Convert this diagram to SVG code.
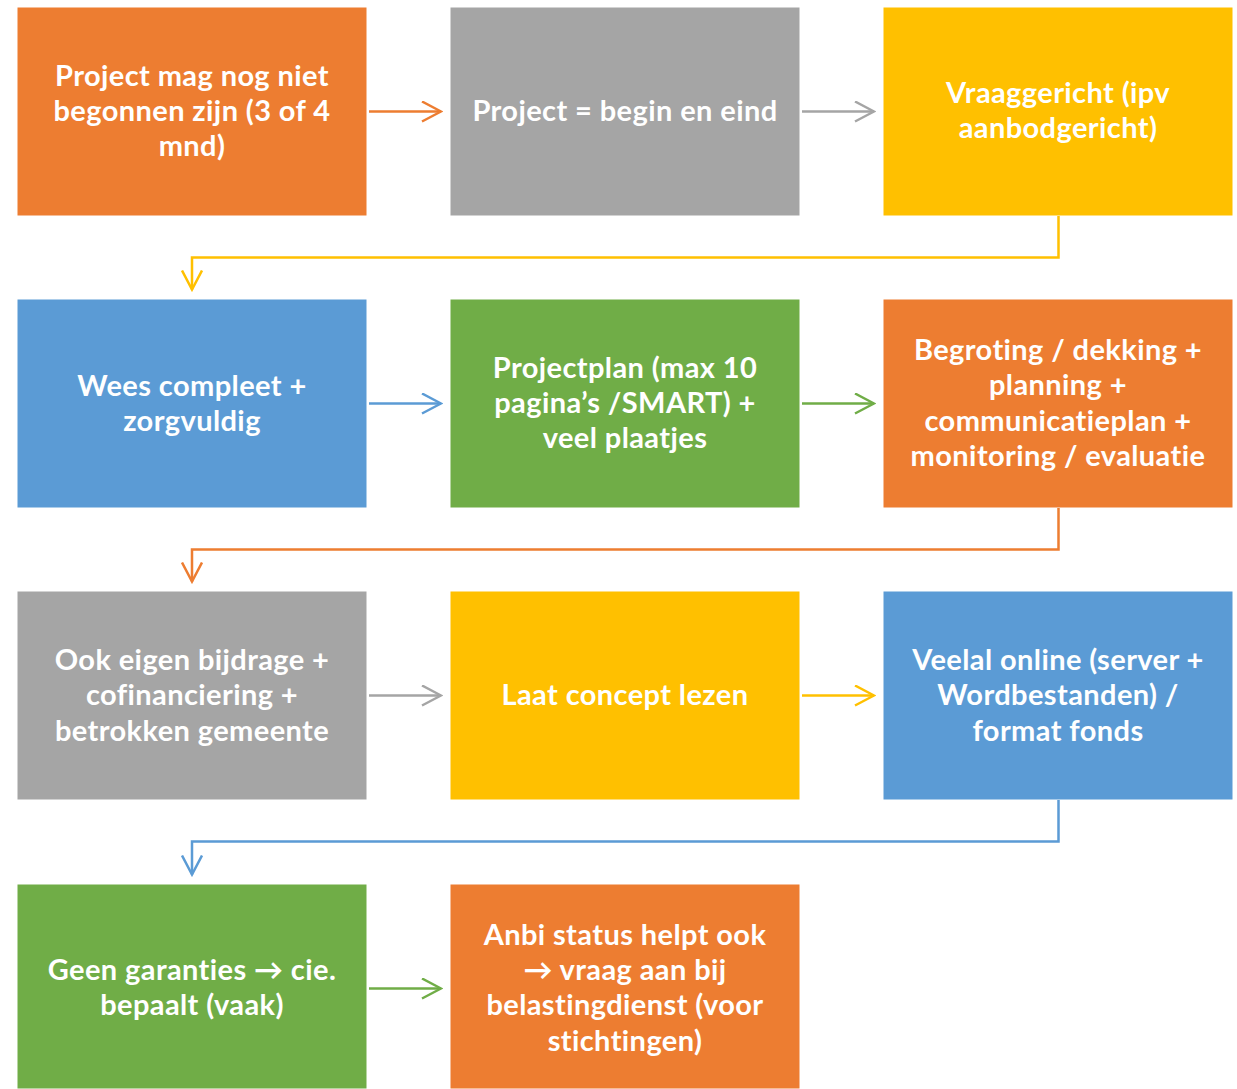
<svg xmlns="http://www.w3.org/2000/svg" width="1237" height="1089" viewBox="0 0 1237 1089">
<style>
.t{font-family:Lato,"Open Sans","Liberation Sans",sans-serif;font-weight:bold;font-size:29px;letter-spacing:0.4px;fill:#fff;text-anchor:middle;font-variant-ligatures:none}
.c{fill:none;stroke-width:2.5}
</style>
<defs>
<marker id="mo" viewBox="0 0 22 22" refX="20" refY="11" markerWidth="22" markerHeight="22" markerUnits="userSpaceOnUse" orient="auto"><path d="M1,1 L20,11 L1,21" fill="none" stroke="#ED7D31" stroke-width="2.5"/></marker>
<marker id="mg" viewBox="0 0 22 22" refX="20" refY="11" markerWidth="22" markerHeight="22" markerUnits="userSpaceOnUse" orient="auto"><path d="M1,1 L20,11 L1,21" fill="none" stroke="#A5A5A5" stroke-width="2.5"/></marker>
<marker id="my" viewBox="0 0 22 22" refX="20" refY="11" markerWidth="22" markerHeight="22" markerUnits="userSpaceOnUse" orient="auto"><path d="M1,1 L20,11 L1,21" fill="none" stroke="#FFC000" stroke-width="2.5"/></marker>
<marker id="mb" viewBox="0 0 22 22" refX="20" refY="11" markerWidth="22" markerHeight="22" markerUnits="userSpaceOnUse" orient="auto"><path d="M1,1 L20,11 L1,21" fill="none" stroke="#5B9BD5" stroke-width="2.5"/></marker>
<marker id="mn" viewBox="0 0 22 22" refX="20" refY="11" markerWidth="22" markerHeight="22" markerUnits="userSpaceOnUse" orient="auto"><path d="M1,1 L20,11 L1,21" fill="none" stroke="#70AD47" stroke-width="2.5"/></marker>
</defs>
<rect width="1237" height="1089" fill="#fff"/>
<g id="connectors">
<line class="c" x1="369" y1="111.5" x2="441" y2="111.5" stroke="#ED7D31" marker-end="url(#mo)"/>
<line class="c" x1="802" y1="111.5" x2="874" y2="111.5" stroke="#A5A5A5" marker-end="url(#mg)"/>
<polyline class="c" points="1058.5,216 1058.5,257.5 192,257.5 192,289.5" stroke="#FFC000" marker-end="url(#my)"/>
<line class="c" x1="369" y1="403.5" x2="441" y2="403.5" stroke="#5B9BD5" marker-end="url(#mb)"/>
<line class="c" x1="802" y1="403.5" x2="874" y2="403.5" stroke="#70AD47" marker-end="url(#mn)"/>
<polyline class="c" points="1058.5,508 1058.5,549.5 192,549.5 192,581.5" stroke="#ED7D31" marker-end="url(#mo)"/>
<line class="c" x1="369" y1="695.5" x2="441" y2="695.5" stroke="#A5A5A5" marker-end="url(#mg)"/>
<line class="c" x1="802" y1="695.5" x2="874" y2="695.5" stroke="#FFC000" marker-end="url(#my)"/>
<polyline class="c" points="1058.5,800 1058.5,841.5 192,841.5 192,874.5" stroke="#5B9BD5" marker-end="url(#mb)"/>
<line class="c" x1="369" y1="988.5" x2="441" y2="988.5" stroke="#70AD47" marker-end="url(#mn)"/>
</g>
<g id="n1"><rect x="17.5" y="7.5" width="349" height="208" fill="#ED7D31"/>
<text class="t" x="192" y="86">Project mag nog niet</text><text class="t" x="192" y="121">begonnen zijn (3 of 4</text><text class="t" x="192" y="156">mnd)</text></g>
<g id="n2"><rect x="450.5" y="7.5" width="349" height="208" fill="#A5A5A5"/>
<text class="t" x="625" y="121">Project = begin en eind</text></g>
<g id="n3"><rect x="883.5" y="7.5" width="349" height="208" fill="#FFC000"/>
<text class="t" x="1058" y="103">Vraaggericht (ipv</text><text class="t" x="1058" y="138">aanbodgericht)</text></g>
<g id="n4"><rect x="17.5" y="299.5" width="349" height="208" fill="#5B9BD5"/>
<text class="t" x="192" y="396">Wees compleet +</text><text class="t" x="192" y="431">zorgvuldig</text></g>
<g id="n5"><rect x="450.5" y="299.5" width="349" height="208" fill="#70AD47"/>
<text class="t" x="625" y="378">Projectplan (max 10</text><text class="t" x="625" y="413">pagina’s /SMART) +</text><text class="t" x="625" y="448">veel plaatjes</text></g>
<g id="n6"><rect x="883.5" y="299.5" width="349" height="208" fill="#ED7D31"/>
<text class="t" x="1058" y="360">Begroting / dekking +</text><text class="t" x="1058" y="395">planning +</text><text class="t" x="1058" y="431">communicatieplan +</text><text class="t" x="1058" y="466">monitoring / evaluatie</text></g>
<g id="n7"><rect x="17.5" y="591.5" width="349" height="208" fill="#A5A5A5"/>
<text class="t" x="192" y="670">Ook eigen bijdrage +</text><text class="t" x="192" y="705">cofinanciering +</text><text class="t" x="192" y="741">betrokken gemeente</text></g>
<g id="n8"><rect x="450.5" y="591.5" width="349" height="208" fill="#FFC000"/>
<text class="t" x="625" y="705">Laat concept lezen</text></g>
<g id="n9"><rect x="883.5" y="591.5" width="349" height="208" fill="#5B9BD5"/>
<text class="t" x="1058" y="670">Veelal online (server +</text><text class="t" x="1058" y="705">Wordbestanden) /</text><text class="t" x="1058" y="741">format fonds</text></g>
<g id="n10"><rect x="17.5" y="884.5" width="349" height="204" fill="#70AD47"/>
<text class="t" x="192" y="980">Geen garanties → cie.</text><text class="t" x="192" y="1015">bepaalt (vaak)</text></g>
<g id="n11"><rect x="450.5" y="884.5" width="349" height="204" fill="#ED7D31"/>
<text class="t" x="625" y="945">Anbi status helpt ook</text><text class="t" x="625" y="980">→ vraag aan bij</text><text class="t" x="625" y="1015">belastingdienst (voor</text><text class="t" x="625" y="1051">stichtingen)</text></g>
</svg>
